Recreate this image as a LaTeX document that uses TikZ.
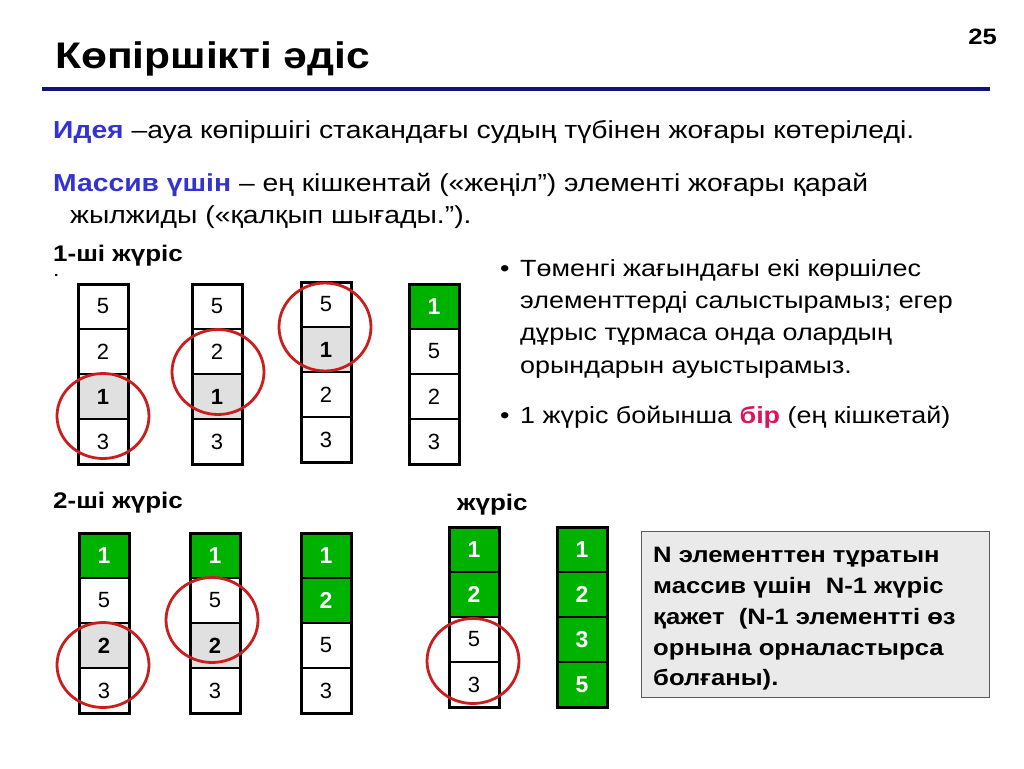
\documentclass[tikz,border=0pt]{standalone}
\usepackage{fontspec}
\setmainfont{Liberation Sans}[FakeStretch=1.15]
\newfontfamily\cellfont{Liberation Sans}
\usetikzlibrary{shapes.geometric}
\definecolor{navy}{RGB}{20,20,120}
\definecolor{cgreen}{RGB}{0,178,0}
\definecolor{cgrey}{RGB}{224,224,224}
\definecolor{cred}{RGB}{200,30,30}
\definecolor{cblue}{RGB}{51,51,210}
\definecolor{cpink}{RGB}{220,20,95}
\definecolor{boxgrey}{RGB}{234,234,234}
\definecolor{boxedge}{RGB}{90,90,90}
\tikzset{
  cellbox/.style={draw=black, line width=1.2pt, minimum width=50pt, minimum height=45pt,
    inner sep=0pt, outer sep=0pt, font=\cellfont\fontsize{22}{24}\selectfont},
  wcell/.style={fill=white},
  kcell/.style={fill=cgrey, font=\cellfont\fontsize{22}{24}\selectfont\bfseries},
  gcell/.style={fill=cgreen, text=white, font=\cellfont\fontsize{23}{24}\selectfont\bfseries},
  outerbox/.style={draw=black, line width=3pt},
  ring/.style={ellipse, draw=cred, line width=2.8pt, minimum width=92pt, minimum height=85pt, inner sep=0pt},
  txt/.style={anchor=base west, inner sep=0pt, font=\fontsize{24.6}{28}\selectfont},
  rtxt/.style={anchor=base west, inner sep=0pt, font=\fontsize{23.4}{28}\selectfont},
  lbl/.style={anchor=base west, inner sep=0pt, font=\fontsize{22.6}{26}\selectfont\bfseries},
  btxt/.style={anchor=base west, inner sep=0pt, font=\fontsize{22.3}{26}\selectfont\bfseries},
}
\newcommand{\colarr}[4]{%
  \foreach \st/\val [count=\i] in {#4} {
    \node[cellbox,\st] (#1-\i) at ({#2+25},{#3+22.5+45*(\i-1)}) {\val};
  }
  \draw[outerbox] (#1-1.north west) rectangle (#1-4.south east);
}
\begin{document}
\begin{tikzpicture}[x=1pt,y=-1pt]
\useasboundingbox[fill=white] (0,0) rectangle (1024,768);
% title
\node[anchor=base west, inner sep=0pt, font=\fontsize{37}{44}\selectfont\bfseries] (title) at (55,68) {Көпіршікті әдіс};
\node[anchor=base east, inner sep=0pt, font=\fontsize{22.3}{26}\selectfont\bfseries] (pnum) at (997,45) {25};
\coordinate (rl) at (42,89);
\coordinate (rr) at (990,89);
\draw[navy, line width=4pt] (rl) -- (rr);
% intro text
\node[txt] (idea) at (53,138) {\textcolor{cblue}{\bfseries Идея} –ауа көпіршігі стакандағы судың түбінен жоғары көтеріледі.};
\node[txt] (mass1) at (53,191) {\textcolor{cblue}{\bfseries Массив үшін} – ең кішкентай («жеңіл") элементі жоғары қарай};
\node[txt] (mass2) at (70,223) {жылжиды («қалқып шығады.").};
% pass 1
\node[lbl] (p1) at (53,261) {1-ші жүріс};
\node[anchor=base west, inner sep=0pt, font=\fontsize{14}{14}\selectfont\bfseries] (p1dot) at (54,276) {.};
\colarr{a}{78}{284}{wcell/5,wcell/2,kcell/1,wcell/3}
\colarr{b}{192}{284}{wcell/5,wcell/2,kcell/1,wcell/3}
\colarr{c}{301}{282}{wcell/5,kcell/1,wcell/2,wcell/3}
\colarr{d}{409}{284}{gcell/1,wcell/5,wcell/2,wcell/3}
\node[ring] (ra) at (103,416) {};
\node[ring] (rb) at (218,372) {};
\node[ring, minimum height=88pt] (rc) at (325,327) {};
% right bullets
\node[rtxt] (b1) at (500,276) {•};
\node[rtxt] (t1) at (520,276) {Төменгі жағындағы екі көршілес};
\node[rtxt] (t2) at (520,308) {элементтерді салыстырамыз; егер};
\node[rtxt] (t3) at (520,340) {дұрыс тұрмаса онда олардың};
\node[rtxt] (t4) at (520,373) {орындарын ауыстырамыз.};
\node[rtxt] (b2) at (500,423) {•};
\node[rtxt] (t5) at (520,423) {1 жүріс бойынша \textcolor{cpink}{\bfseries бір} (ең кішкетай)};
% pass 2
\node[lbl] (p2) at (53,508) {2-ші жүріс};
\node[lbl] (p3) at (457,510) {жүріс};
\colarr{e}{79}{533}{gcell/1,wcell/5,kcell/2,wcell/3}
\colarr{f}{190}{533}{gcell/1,wcell/5,kcell/2,wcell/3}
\colarr{g}{301}{533}{gcell/1,gcell/2,wcell/5,wcell/3}
\colarr{h}{449}{527}{gcell/1,gcell/2,wcell/5,wcell/3}
\colarr{k}{557}{527}{gcell/1,gcell/2,gcell/3,gcell/5}
\node[ring] (re) at (103,665) {};
\node[ring] (rf) at (212,620) {};
\node[ring] (rh) at (473,661) {};
% note box
\node[draw=boxedge, fill=boxgrey, line width=1pt, minimum width=348pt, minimum height=166pt, inner sep=0pt, anchor=north west] (note) at (641,531) {};
\node[btxt] (n1) at (653,562) {N элементтен тұратын};
\node[btxt] (n2) at (653,593) {массив үшін\ \ N-1 жүріс};
\node[btxt] (n3) at (653,624) {қажет\ \ (N-1 элементті өз};
\node[btxt] (n4) at (653,655) {орнына орналастырса};
\node[btxt] (n5) at (653,685) {болғаны).};
\end{tikzpicture}
\end{document}
